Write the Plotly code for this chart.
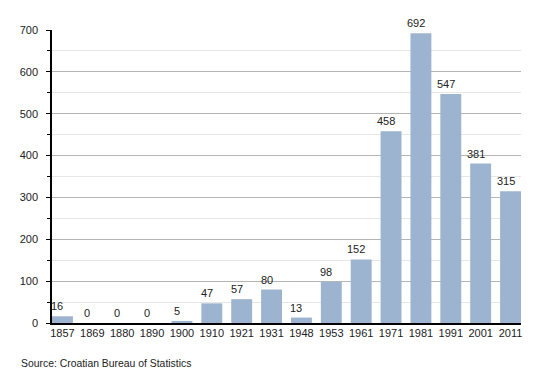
import plotly.graph_objects as go

years = ["1857", "1869", "1880", "1890", "1900", "1910", "1921", "1931",
         "1948", "1953", "1961", "1971", "1981", "1991", "2001", "2011"]
population = [16, 0, 0, 0, 5, 47, 57, 80, 13, 98, 152, 458, 692, 547, 381, 315]
y_ticks = [0, 100, 200, 300, 400, 500, 600, 700]
source_text = "Source: Croatian Bureau of Statistics"

font_family = "Liberation Sans, Arial, sans-serif"

# page body has an 8px default margin; figure sized to fit the 550x373 window
W, H = 542, 365
L, R, T, B = 42, 29, 22, 50
plot_w = W - L - R
plot_h = H - T - B

fig = go.Figure()
fig.add_trace(go.Bar(
    x=list(range(len(years))),
    y=population,
    width=0.7,
    marker=dict(color="#9cb4cf", line=dict(width=0)),
    hoverinfo="skip",
))

for i, v in enumerate(population):
    fig.add_annotation(
        x=i, y=v, text=str(v), showarrow=False,
        xanchor="center", yanchor="bottom", xshift=-5, yshift=2,
        font=dict(family=font_family, size=11, color="#222222"),
    )

fig.add_annotation(
    xref="paper", yref="paper",
    x=(9 - L) / plot_w, y=-40 / plot_h,
    text=source_text, showarrow=False, xanchor="left", yanchor="middle",
    font=dict(family=font_family, size=10.4, color="#222222"),
)

fig.update_layout(
    width=W, height=H,
    margin=dict(l=L, r=R, t=T, b=B),
    paper_bgcolor="white", plot_bgcolor="white",
    showlegend=False,
    font=dict(family=font_family, size=11, color="#222222"),
    xaxis=dict(
        range=[-0.35, len(years) - 0.65],
        tickmode="array", tickvals=list(range(len(years))), ticktext=years,
        showgrid=False, zeroline=False,
        showline=True, linecolor="black", linewidth=1.5,
        ticks="", tickfont=dict(size=11, color="#222222"),
        ticklabelstandoff=-1,
        fixedrange=True,
    ),
    yaxis=dict(
        range=[0, 700],
        tickmode="array", tickvals=y_ticks,
        showgrid=True, gridcolor="#b5b5b5", gridwidth=1,
        zeroline=False,
        showline=True, linecolor="black", linewidth=1.5,
        ticks="outside", ticklen=4, tickcolor="black", tickwidth=1,
        ticklabelstandoff=6,
        minor=dict(dtick=50, tick0=0, showgrid=True, gridcolor="#e6e6e6",
                   ticks="outside", ticklen=3, tickcolor="black"),
        tickfont=dict(size=11, color="#222222"),
        fixedrange=True,
    ),
)

fig.write_html("out.html")
